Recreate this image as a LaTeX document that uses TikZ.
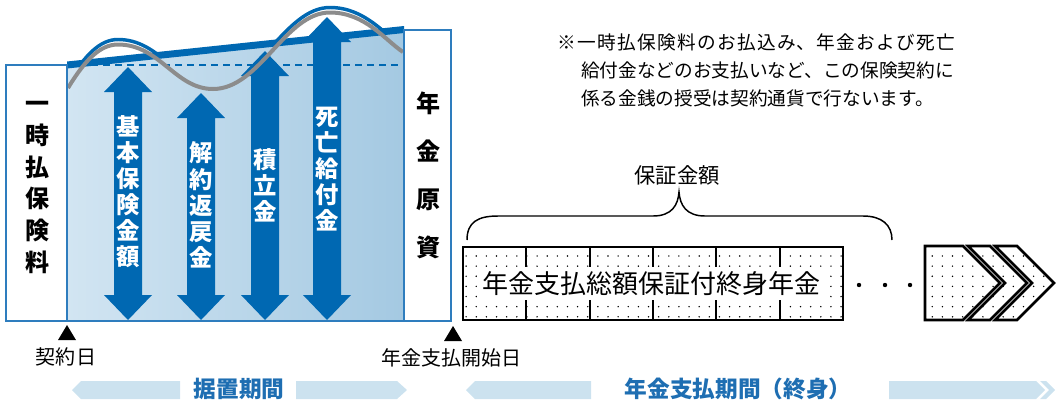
\documentclass[tikz,border=0pt]{standalone}
\usepackage{fontspec}
\setmainfont{Noto Sans CJK JP}
\usetikzlibrary{patterns.meta}

\definecolor{arrowblue}{RGB}{0,104,178}
\definecolor{frameblue}{RGB}{46,125,190}
\definecolor{shadeleft}{RGB}{210,229,242}
\definecolor{shaderight}{RGB}{164,201,226}
\definecolor{bandblue}{RGB}{204,226,239}
\definecolor{periodblue}{RGB}{30,110,178}
\definecolor{wavegray}{RGB}{140,140,140}

\tikzset{
  boxframe/.style={draw=frameblue, line width=1.1pt},
  boxtext/.style={inner sep=0pt, align=center, font=\bfseries\fontsize{18}{23.9}\selectfont},
  arrowtext/.style={inner sep=0pt, align=center, text=white, font=\bfseries\fontsize{17.5}{19.6}\selectfont},
  datetext/.style={inner sep=0pt, font=\fontsize{15}{18}\selectfont},
  periodtext/.style={inner sep=0pt, text=periodblue, font=\bfseries\fontsize{17}{20}\selectfont},
  cellbox/.style={draw=black, line width=1.9pt, pattern={Dots[distance=7.6pt,radius=0.6pt]}},
}

\begin{document}
\begin{tikzpicture}[x=0.75pt,y=0.75pt,yscale=-1,xscale=1]
\useasboundingbox (0,0) rectangle (1056,408);

%Shape: fund area
\shade[left color=shadeleft, right color=shaderight] (67,65) -- (404,29.5) -- (404,321) -- (67,321) -- cycle;
%Straight Lines: guaranteed level
\draw[arrowblue, line width=1.2pt, dash pattern={on 5.5pt off 3.5pt}] (67,65) -- (404,65);
%Shape: rising top line
\fill[arrowblue] (67,61.5) -- (404,26) -- (404,33) -- (67,68.5) -- cycle;
%Curve: outline of the humps
\begin{scope}
\clip (60,65.7) -- (404,30) -- (404,0) -- (60,0) -- cycle;
\draw[arrowblue, line width=2.6pt] (68,83) .. controls (85,55) and (100,39.5) .. (118,39.5) .. controls (160,39.5) and (175,84) .. (213,84) .. controls (260,84) and (285,7.5) .. (330,7.5) .. controls (365,7.5) and (385,35) .. (403,47);
\end{scope}

%Shape: double arrows
\foreach \x/\yt in {128/67, 201/93, 265/51, 327/17}
  \fill[arrowblue] (\x,\yt) -- (\x+24,\yt+25) -- (\x+14,\yt+25) -- (\x+14,295) -- (\x+24,295) -- (\x,320) -- (\x-24,295) -- (\x-14,295) -- (\x-14,\yt+25) -- (\x-24,\yt+25) -- cycle;

%Curve: gray wave
\draw[wavegray, line width=3pt] (68,88) .. controls (85,60) and (100,44.5) .. (118,44.5) .. controls (160,44.5) and (175,89) .. (213,89) .. controls (260,89) and (285,12.5) .. (330,12.5) .. controls (365,12.5) and (385,40) .. (403,52);

%Shape: frames
\draw[boxframe] (67,65) -- (67,321) -- (404,321);
\draw[boxframe, fill=white] (6,65) rectangle (67,321);
\draw[boxframe, fill=white] (404,30) rectangle (451,321);

% Text Node
\node[boxtext] (premium) at (37,187.5) {一\\時\\払\\保\\険\\料};
% Text Node
\node[boxtext, font=\bfseries\fontsize{18}{36}\selectfont] (fund) at (428,175) {年\\金\\原\\資};
% Text Node
\foreach \x/\y/\txt [count=\i] in {128/191.5/{基\\本\\保\\険\\金\\額}, 201/205/{解\\約\\返\\戻\\金}, 265/185/{積\\立\\金}, 327/169/{死\\亡\\給\\付\\金}}
  \node[arrowtext] (amount\i) at (\x,\y) {\txt};

%Shape: date marks
\fill (67,325) -- (76,340) -- (58,340) -- cycle;
\fill (453,326) -- (462,341) -- (444,341) -- cycle;
% Text Node
\node[datetext] (contract) at (66,357) {契約日};
% Text Node
\node[datetext] (payout) at (451,358) {年金支払開始日};

%Shape: period bands
\fill[bandblue] (72,390) -- (81,381) -- (180,381) -- (180,399) -- (81,399) -- cycle;
\fill[bandblue] (296,381) -- (397,381) -- (407,390) -- (397,399) -- (296,399) -- cycle;
\fill[bandblue] (466,390) -- (475,381) -- (591,381) -- (591,399) -- (475,399) -- cycle;
\fill[bandblue] (889,381) -- (1036,381) -- (1045,390) -- (1036,399) -- (889,399) -- cycle;
\fill[bandblue] (1040,381) -- (1046,381) -- (1055,390) -- (1046,399) -- (1040,399) -- (1049,390) -- cycle;
% Text Node
\node[periodtext] (deferral) at (239,389) {据置期間};
% Text Node
\node[periodtext] (payperiod) at (738,389) {年金支払期間（終身）};

% Text Node
\node[anchor=north west, inner sep=0pt, text width=298.5pt, align=justify, font={\fontsize{14}{21}\selectfont\XeTeXlinebreaklocale "ja"\XeTeXlinebreakskip=0pt plus 2pt\relax}] (note) at (557,33) {※一時払保険料のお払込み、年金および死亡\linebreak\hspace*{18pt}給付金などのお支払いなど、この保険契約に\newline\hspace*{18pt}係る金銭の授受は契約通貨で行ないます。};

% Text Node
\node[inner sep=0pt, font=\fontsize{16}{18}\selectfont] (guarantee) at (677,175) {保証金額};
%Curve: brace
\draw[line width=1.1pt] (467,240) .. controls (467,222) and (478,216) .. (498,216) -- (653,216) .. controls (672,216) and (678,205) .. (679,192) .. controls (680,205) and (686,216) .. (705,216) -- (863,216) .. controls (882,216) and (892,225) .. (892,240);

%Shape: guaranteed payments
\draw[cellbox] (463,247) rectangle (843,320);
\foreach \i in {1,...,5}
  \draw[line width=1.3pt] (463+63.33*\i,247) -- (463+63.33*\i,320);
% Text Node
\node[fill=white, inner sep=0pt, minimum width=262pt, minimum height=24.75pt, font=\fontsize{19.5}{20}\selectfont] (annuity) at (651.5,283.5) {年金支払総額保証付終身年金};

%Shape: dots
\foreach \x in {859,885,910}
  \fill (\x,285) circle (2.2);

%Shape: chevrons
\draw[cellbox] (925,246) -- (963,246) -- (1000,283) -- (963,320) -- (925,320) -- cycle;
\foreach \a in {968,995}
  \draw[cellbox] (\a,246) -- (\a+22,246) -- (\a+59,283) -- (\a+22,320) -- (\a,320) -- (\a+37,283) -- cycle;

\end{tikzpicture}
\end{document}
